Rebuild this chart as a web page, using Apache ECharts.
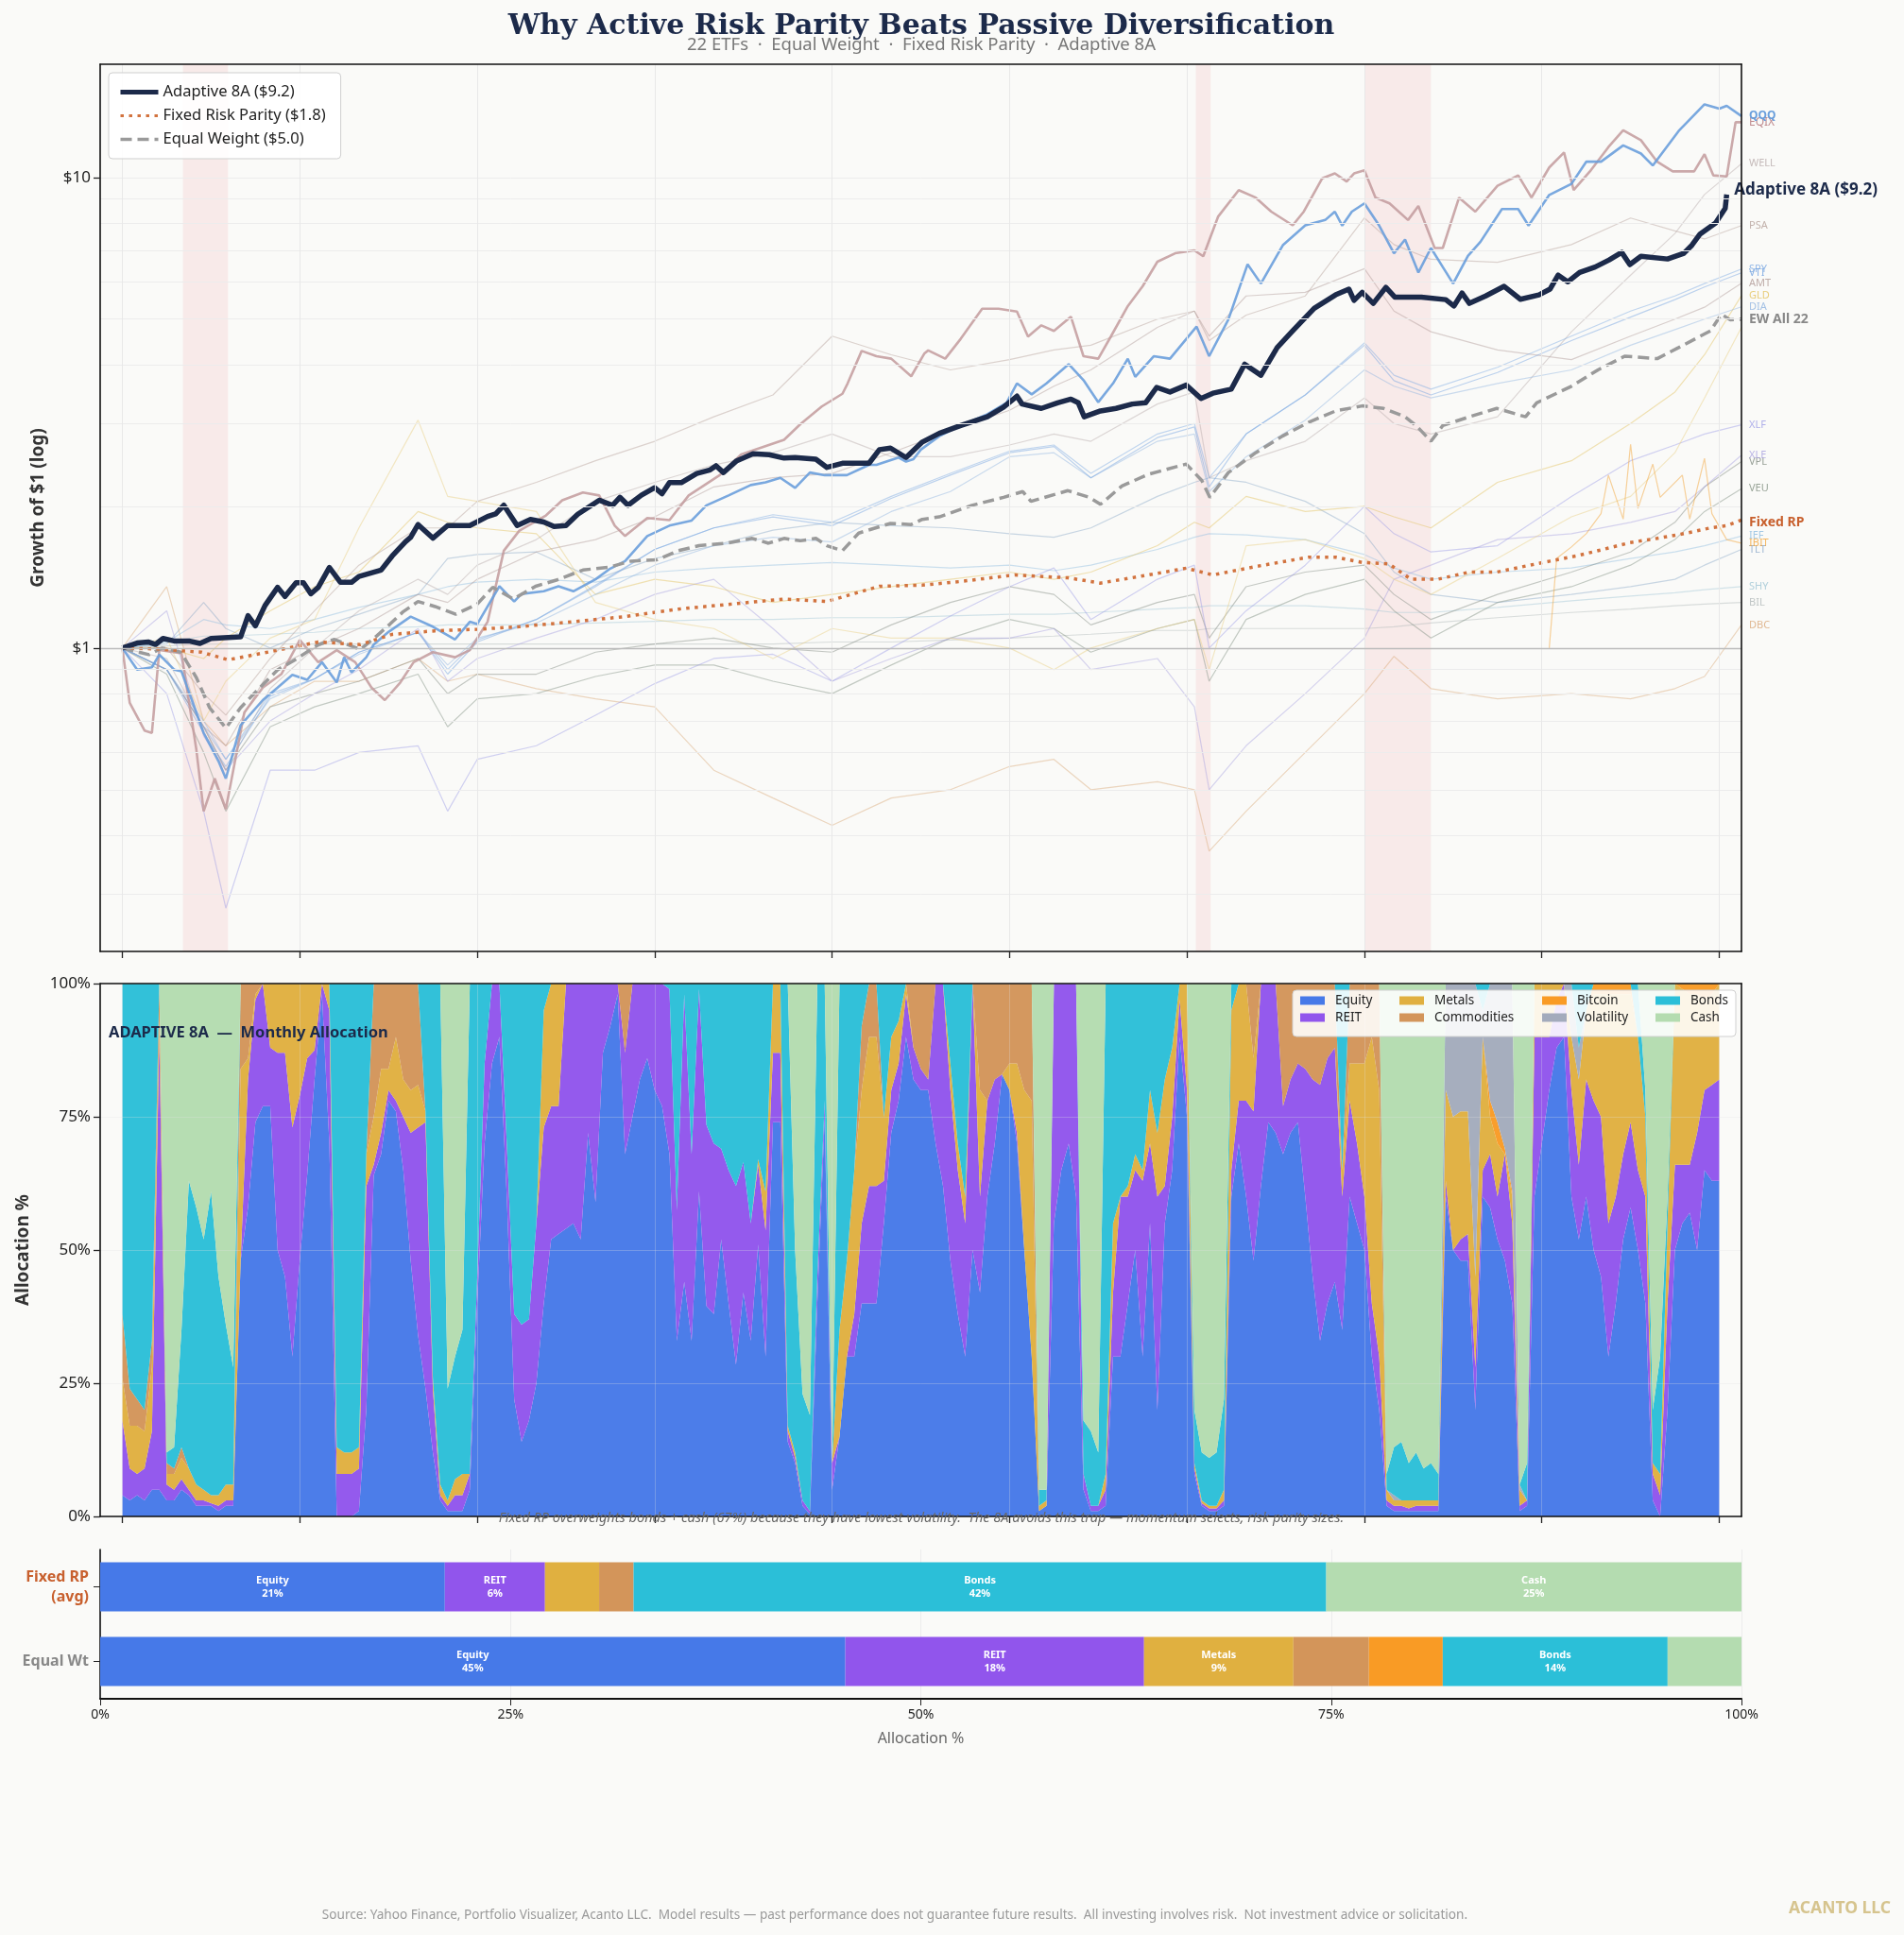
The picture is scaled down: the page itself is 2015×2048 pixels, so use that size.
<!DOCTYPE html>
<html><head><meta charset="utf-8">
<script src="https://cdn.jsdelivr.net/npm/echarts/dist/echarts.min.js"></script>
<style>html,body{margin:0;padding:0;background:#fafaf8}#c{width:2015px;height:2048px}</style>
</head><body><div id="c"></div>
<script>
// ---------- DATA ----------
const yearTicks = [0,24,48,72,96,120,144,168,192,216];
const stressPeriods = [[8.2,14.3],[145.2,147.2],[168,177]];
const minorLevels = [0.3,0.4,0.5,0.6,0.7,0.8,0.9,2,3,4,5,6,7,8,9,10];

const etfMonths = [0,6,11,14,20,26,32,40,44,48,56,64,72,80,88,96,104,112,120,126,131,140,145,147,152,160,168,172,177,186,196,204,210,214,219];
const SPY  = [1.00,0.90,0.68,0.58,0.80,0.86,0.98,1.08,0.90,1.04,1.15,1.35,1.62,1.80,1.92,1.85,2.10,2.35,2.62,2.70,2.35,2.85,3.00,2.30,2.85,3.45,4.45,3.80,3.55,3.95,4.60,5.20,5.60,5.95,6.39];
const VTI  = [1.00,0.90,0.66,0.56,0.79,0.86,0.98,1.08,0.88,1.03,1.15,1.36,1.62,1.80,1.90,1.82,2.08,2.33,2.60,2.68,2.30,2.80,2.95,2.20,2.85,3.45,4.40,3.70,3.45,3.85,4.50,5.05,5.50,5.85,6.27];
const DIA  = [1.00,0.90,0.70,0.58,0.78,0.86,0.97,1.08,0.92,1.05,1.13,1.30,1.50,1.65,1.72,1.68,1.95,2.15,2.55,2.60,2.30,2.75,2.85,2.15,2.55,3.05,3.90,3.60,3.40,3.65,3.90,4.40,4.75,5.00,5.31];
const WELL = [1.00,0.95,0.68,0.55,0.82,1.00,1.20,1.40,1.30,1.50,1.70,2.05,2.25,2.45,2.60,2.85,2.55,2.55,2.70,2.85,2.75,3.30,3.50,2.30,2.50,2.75,3.40,3.00,2.85,3.10,4.70,6.20,7.60,9.20,10.70];
const PSA  = [1.00,1.00,0.80,0.72,0.95,1.20,1.50,1.80,1.80,2.05,2.25,2.50,2.75,3.10,3.45,4.60,4.20,3.90,4.10,4.30,4.40,5.00,5.20,4.50,5.10,5.60,8.20,7.20,6.70,6.60,7.20,8.20,7.70,7.40,7.90];
const AMT  = [1.00,0.90,0.68,0.62,0.90,1.00,1.10,1.30,1.25,1.40,1.60,1.70,1.90,2.20,2.30,2.35,2.60,2.90,3.20,3.60,3.90,4.80,5.20,4.60,5.60,5.70,6.40,5.20,4.70,4.30,4.10,4.60,5.00,5.30,5.96];
const GLD  = [1.00,1.00,0.95,1.05,1.20,1.35,1.45,1.95,1.85,1.80,1.75,1.30,1.40,1.35,1.25,1.30,1.35,1.40,1.45,1.40,1.45,1.65,1.85,1.80,2.10,1.95,2.00,1.90,1.80,2.25,2.50,3.00,3.50,4.20,5.61];
const SLV  = [1.00,1.05,0.70,0.85,1.05,1.15,1.80,3.05,2.10,2.05,1.95,1.25,1.15,1.10,0.95,1.10,1.05,1.05,1.00,0.90,1.00,1.10,1.15,0.90,1.65,1.70,1.55,1.40,1.30,1.55,1.90,2.10,2.60,3.40,4.80];
const XLF  = [1.00,0.80,0.45,0.28,0.55,0.55,0.60,0.62,0.45,0.58,0.62,0.72,0.84,0.95,0.97,0.85,1.00,1.17,1.35,1.48,1.15,1.40,1.50,1.00,1.20,1.50,2.00,1.75,1.60,1.65,2.10,2.50,2.70,2.85,2.98];
const XLE  = [1.00,1.20,0.65,0.55,0.70,0.80,0.90,1.10,0.85,0.95,1.05,1.15,1.30,1.40,1.10,0.85,0.95,1.05,1.05,1.10,0.90,0.95,0.75,0.50,0.62,0.80,1.05,1.40,1.50,1.70,1.75,1.85,1.95,2.20,2.57];
const VPL  = [1.00,0.90,0.68,0.55,0.75,0.80,0.85,0.95,0.80,0.88,0.88,0.98,1.02,1.05,1.00,0.98,1.12,1.25,1.35,1.30,1.12,1.25,1.30,1.05,1.35,1.45,1.50,1.30,1.15,1.30,1.45,1.60,1.85,2.20,2.49];
const VEU  = [1.00,0.88,0.60,0.45,0.68,0.75,0.80,0.88,0.68,0.78,0.80,0.87,0.92,0.92,0.85,0.80,0.92,1.05,1.15,1.10,0.98,1.10,1.15,0.85,1.15,1.30,1.40,1.20,1.05,1.25,1.35,1.50,1.70,1.95,2.18];
const IEF  = [1.00,1.03,1.15,1.12,1.10,1.15,1.22,1.30,1.35,1.38,1.40,1.38,1.45,1.48,1.50,1.52,1.50,1.48,1.50,1.46,1.50,1.62,1.72,1.75,1.74,1.70,1.58,1.48,1.40,1.45,1.48,1.55,1.60,1.65,1.73];
const TLT  = [1.00,1.02,1.25,1.10,1.00,1.10,1.18,1.30,1.55,1.58,1.60,1.40,1.55,1.65,1.78,1.85,1.82,1.80,1.75,1.72,1.80,2.10,2.25,2.30,2.25,2.05,1.75,1.45,1.30,1.25,1.30,1.35,1.40,1.50,1.62];
const SHY  = [1.00,1.03,1.06,1.06,1.07,1.08,1.10,1.11,1.12,1.12,1.12,1.13,1.14,1.15,1.15,1.16,1.16,1.17,1.18,1.18,1.19,1.21,1.22,1.23,1.23,1.23,1.21,1.19,1.19,1.22,1.26,1.29,1.31,1.33,1.35];
const BIL  = [1.00,1.01,1.02,1.02,1.02,1.02,1.02,1.02,1.02,1.02,1.02,1.02,1.02,1.02,1.02,1.03,1.03,1.04,1.05,1.06,1.07,1.09,1.09,1.10,1.10,1.10,1.10,1.11,1.13,1.16,1.19,1.21,1.23,1.24,1.25];
const DBC  = [1.00,1.35,0.70,0.62,0.75,0.85,0.85,0.95,0.85,0.88,0.82,0.78,0.75,0.55,0.48,0.42,0.48,0.50,0.56,0.58,0.50,0.52,0.50,0.37,0.45,0.60,0.80,0.96,0.82,0.78,0.80,0.78,0.82,0.87,1.12];
const IBIT = [[193,1.0],[194,1.55],[196,1.64],[198,1.75],[200,1.93],[201,2.33],[203,1.88],[204,2.71],[205,1.98],[207,2.46],[208,2.09],[211,2.33],[212,1.88],[214,2.53],[215,1.93],[217,1.70],[219,1.67]];

const QQQ = [[0,1.0],[2,0.90],[4,0.91],[5,0.968],[7,0.90],[8,0.892],[11,0.66],[13,0.575],[14,0.528],[16,0.685],[19,0.775],[21,0.824],[23,0.877],[25,0.856],[27,0.933],[29,0.845],[30,0.956],[31,0.888],[33,0.956],[34,1.017],[36,1.082],[39,1.166],[42,1.11],[45,1.043],[47,1.137],[48,1.124],[51,1.353],[53,1.256],[54,1.303],[57,1.32],[59,1.353],[61,1.32],[64,1.40],[66,1.475],[68,1.53],[71,1.73],[74,1.82],[77,1.866],[79,2.01],[82,2.11],[85,2.22],[87,2.25],[89,2.30],[91,2.19],[93,2.36],[95,2.33],[98,2.33],[101,2.45],[102,2.45],[105,2.54],[106,2.49],[107,2.52],[108,2.64],[110.5,2.82],[113.4,2.97],[117,3.14],[119.6,3.32],[121,3.65],[123,3.46],[125,3.65],[128,4.01],[130,3.71],[132,3.33],[134,3.65],[136,4.12],[137,3.77],[139.5,4.17],[141.7,4.12],[145.3,4.82],[147,4.17],[149.6,4.99],[152.2,6.54],[154,5.95],[157,7.19],[160,7.91],[162.7,8.12],[164,8.46],[165,7.9],[166.3,8.46],[168,8.81],[170,7.9],[172,6.9],[173.5,7.38],[175.3,6.28],[177,7.08],[178.6,6.45],[180,5.95],[182,6.81],[183.7,7.3],[186.6,8.57],[188.8,8.57],[190.2,7.9],[193,9.18],[196,9.69],[198,10.8],[200,10.8],[203,11.7],[205.4,11.24],[207,10.6],[210.5,12.55],[214,14.3],[216,14.0],[217,14.2],[219,13.5]];
const EQIX = [[0,1.0],[1,0.765],[3,0.668],[4,0.66],[5,0.99],[8,0.975],[10,0.61],[11,0.45],[12.5,0.528],[14,0.455],[16.5,0.73],[19,0.824],[21.5,0.88],[24,1.04],[26.5,0.933],[29,0.99],[31.5,0.933],[33.7,0.824],[35.5,0.775],[37.6,0.845],[39.4,0.933],[42,0.98],[45,0.956],[47,0.99],[49.4,1.137],[51.6,1.61],[53.7,1.776],[57.3,1.913],[59.5,2.06],[62.3,2.14],[64.5,2.11],[66.6,1.82],[68,1.73],[71,1.89],[74,1.87],[76.6,2.11],[80.8,2.33],[83.7,2.58],[86.5,2.67],[89.5,2.77],[91.7,2.99],[94.6,3.26],[97.4,3.47],[98.1,3.65],[100,4.28],[102,4.17],[104,4.12],[106.7,3.78],[108.5,4.23],[109,4.29],[111.3,4.12],[113.4,4.54],[116.3,5.26],[118.5,5.26],[121,5.19],[122.5,4.59],[124.3,4.85],[126,4.72],[128.3,5.06],[130,4.17],[132,4.12],[133.7,4.59],[136,5.33],[138,5.87],[140,6.62],[142.4,6.9],[145,7.0],[146.2,6.8],[148.2,8.25],[151,9.4],[153.3,9.06],[155.4,8.46],[158.3,7.91],[159.8,8.46],[162.3,9.96],[164,10.2],[165.6,9.8],[166.6,10.2],[168,10.35],[169.5,9.06],[171.4,8.81],[173.9,8.12],[175.3,8.7],[177.5,7.08],[178.6,7.08],[180.8,9.06],[183,8.46],[186,9.6],[188.8,10.1],[190.6,9.06],[193,10.5],[195,11.3],[196.3,9.4],[198.5,10.3],[201,11.6],[203,12.6],[205.4,12.0],[207.6,10.8],[209.7,10.3],[212.6,10.3],[214,11.2],[215.2,10.1],[217,10.05],[218.2,13.1],[219,13.1]];

const adaptive8A = [[0,1.0],[2,1.025],[3.5,1.03],[4.5,1.018],[5.5,1.048],[7,1.035],[9,1.035],[10.5,1.023],[12,1.048],[16,1.056],[17,1.172],[18,1.115],[19.3,1.231],[21,1.346],[22,1.287],[23.5,1.376],[24.5,1.376],[25.5,1.304],[26.5,1.346],[28,1.483],[29.5,1.379],[31,1.379],[32,1.42],[35,1.464],[36.5,1.569],[38.3,1.682],[39,1.719],[40,1.830],[42,1.712],[44,1.821],[47,1.821],[49.4,1.904],[50.5,1.928],[51.6,2.011],[53.4,1.821],[55.2,1.876],[57,1.853],[58.4,1.812],[60,1.82],[61.6,1.924],[64.5,2.061],[66.3,2.011],[67.3,2.091],[68.4,2.011],[70.2,2.112],[72,2.191],[73,2.128],[74,2.246],[75.6,2.246],[77.7,2.350],[79.5,2.391],[80.3,2.44],[81.3,2.36],[83.1,2.50],[85.3,2.588],[87.5,2.575],[89.5,2.533],[91,2.54],[93.8,2.52],[95.3,2.42],[97.4,2.47],[101,2.47],[102.4,2.64],[103.9,2.66],[106,2.54],[108.2,2.74],[110.5,2.86],[113.4,2.97],[117,3.10],[119.2,3.25],[121,3.43],[121.7,3.30],[124.3,3.23],[126.5,3.32],[128.3,3.38],[129.3,3.32],[130.1,3.10],[132.3,3.19],[134.4,3.23],[136.6,3.30],[138.4,3.32],[139.9,3.58],[141.7,3.50],[143.9,3.62],[145.9,3.39],[147.5,3.48],[150,3.55],[151.8,4.01],[154,3.80],[156.2,4.35],[158.3,4.72],[161.2,5.27],[164.1,5.63],[165.9,5.79],[166.6,5.48],[167.7,5.70],[169.2,5.40],[170.9,5.84],[172.1,5.57],[175.7,5.57],[179,5.50],[180.1,5.33],[181.2,5.68],[182.2,5.40],[184.4,5.60],[186.9,5.87],[189.1,5.51],[191.6,5.63],[193.1,5.79],[194.2,6.20],[195.5,6.0],[197.1,6.28],[199.2,6.45],[201.1,6.68],[202.8,6.93],[203.9,6.53],[205.4,6.80],[209,6.71],[211.2,6.90],[212.3,7.18],[213.4,7.58],[215.5,8.0],[216.8,8.6],[217,9.2]];
const fixedRiskParity = [[0,1.0],[5,0.995],[10.7,0.98],[14.3,0.944],[17.9,0.968],[21.5,0.993],[26.5,1.03],[32.2,1.017],[36.5,1.069],[42.3,1.088],[48,1.096],[53.7,1.11],[60.9,1.137],[68,1.166],[75.2,1.21],[82.4,1.24],[89.5,1.271],[95.3,1.256],[102.4,1.353],[108.2,1.36],[113.4,1.385],[120.7,1.43],[127.9,1.41],[132.3,1.374],[138.8,1.43],[143.9,1.478],[147.5,1.43],[153.3,1.49],[160.5,1.56],[164.1,1.56],[167.7,1.52],[171.3,1.51],[174.3,1.40],[177.9,1.40],[182.2,1.45],[185.9,1.45],[189.5,1.49],[193.1,1.53],[196.7,1.57],[200.3,1.62],[203.9,1.675],[207.6,1.71],[211.2,1.75],[214.8,1.80],[217,1.82],[219,1.87]];
const equalWeight = [[0,1.0],[3.6,0.968],[5.4,1.0],[7.9,0.98],[10,0.866],[11.8,0.747],[14,0.676],[16,0.747],[18.6,0.824],[21,0.899],[23.6,0.949],[26.5,1.017],[28.7,1.043],[32.2,0.993],[34.4,1.061],[36.2,1.124],[38,1.195],[40,1.256],[42.3,1.225],[45.1,1.18],[48,1.24],[50.1,1.346],[52.9,1.271],[55.9,1.353],[58.7,1.394],[62.3,1.465],[65.9,1.486],[68.8,1.53],[72.3,1.54],[75.2,1.61],[78,1.65],[81.7,1.67],[85.2,1.71],[87.4,1.67],[89.5,1.71],[91.7,1.69],[93.8,1.71],[95.3,1.65],[97.4,1.61],[99.6,1.755],[103.9,1.84],[106.7,1.83],[108.2,1.877],[110.5,1.90],[114.9,2.01],[119.2,2.09],[121.8,2.15],[122.9,2.05],[127.9,2.16],[130.8,2.09],[132.3,2.02],[135.2,2.21],[138.8,2.34],[143.9,2.46],[146,2.27],[147.1,2.09],[149.6,2.36],[153.3,2.60],[156.9,2.82],[160.5,3.02],[164.1,3.19],[167.7,3.27],[170.6,3.23],[173.5,3.10],[175,2.97],[177,2.75],[178.6,2.97],[182.2,3.10],[185.9,3.23],[189.8,3.10],[191.3,3.32],[196,3.60],[199.6,3.90],[203.2,4.17],[207.6,4.12],[210.5,4.35],[214.8,4.72],[216.3,5.12],[217.5,4.98],[219,5.0]];

// Monthly allocation of Adaptive 8A (% per asset class), months 0..216
const allocMonths = Array.from({length: 217}, (_, i) => i);
const allocEquity = [4,3,4,3,5,5,3,3,5,4, 2,2,2,1,2,2,48,58,74,77, 77,50,45,30,48,64,82,98,70,0, 0,0,1,20,64,68,78,76,65,48, 34,24,12,3,1,1,1,5,40,70, 85,90,60,22,14,18,25,40,52,53, 54,55,52,72,59,87,92,98,68,75, 82,86,80,77,68,33,44,33,61,39.5, 38,52,40,28.5,42,33,51,30,74,74, 14,10,2,0.5,40,75,5,15,30,30, 40,40,40,55,72,78,90,82,80,80, 70,62,48,38,30,50,42,60,70,83, 80,70,50,30,1,2,55,65,70,60, 5,1,1,2,30,30,40,50,30,55, 20,55,65,90,75,8,2,1,1,2, 60,70,60,48,62,74,72,68,72,74, 60,45,33,40,44,35,60,55,50,30, 20,2,1,1,1,1,1,1,1,60, 50,48,48,20,60,58,52,48,40,1, 2,60,70,80,88,90,60,52,60,50, 45,30,40,52,58,50,40,3,0,20, 50,55,57,50,65,63,63];
const allocREIT = [14,6,4,6,11,85,3,2,2,1, 1,1,0.5,1,1,1,0,24,23,23, 11,37,42,43,31,22,5.5,2,25,8, 8,8,8,42,2,4,2,2,10,24, 39,50,12,1,1,3,3,3,5,15, 15,10,10,16,22,19,30,33,25,24, 46,45,48,28,41,13,8,2,19,25, 18,14,20,23,31,24.5,54,35,38,34, 32,17,25,33.5,24.5,22,15,23.7,13,13, 2,1,1,0.5,5,3,5,0,0,8, 15,22,22,8,8,7,8,6,4,2, 30,38,32,27,25,50,18,18,12,0, 0,2,0,0,0,0,45,35,30,40, 3,1,1,3,12,30,20,15,33,15, 40,7,10,7,5,1,0.5,0.5,0.5,1, 5,8,18,28,38,26,28,9,10,11, 24,37,48,46,44,25,18,15,10,10, 10,1,1,1,0.5,1,1,1,1,3, 0,4,5,8,5,10,8,20,15,1, 1,30,20,10,9,10,20,14,22,28, 30,25,20,16,16,15,20,5,4,20, 16,11,9,22,15,18,19];
const allocMetals = [8,8,9,7,12,3,2,3,4,4, 3,2,1.5,2,3,3,36,4,1,0, 12,13,13,27,21,14,12.5,0,5,5, 4,4,4,6,9,12,4,12,7,8, 8,2,2,2,1,3,4,0,0,0, 0,0,0,0,0,0,0,22,23,23, 0,0,0,0,0,0,0,0,0,0, 0,0,0,0,0,0,0,0,0,0, 0,0,0,0,0,0,1,7.3,13,13, 1,1,0,0,0,0,0,20,18,27, 25,28,28,12,10,8,2,0,0,0, 0,0,5,5,5,0,20,0,0,0, 5,13,30,48,1,1,0,0,0,0, 0,0,0,3,13,0,2,3,2,10, 12,20,13,3,20,1,0.5,0.5,0.5,2, 30,22,22,10,0,0,0,0,0,0, 0,0,0,0,0,5,7,15,25,50, 50,2,1,1,1.5,1,1,1,1,17, 25,24,23,17,25,7,10,0,5,3, 0,10,10,10,3,0,10,16,13,20, 23,43,38,30,24,25,15,2,4,15, 34,33,32,26,17,17,18];
const allocCommodities = [12,7,5,4,5,7,2,1,2,0, 0,0,0,0,0,0,16,14,2,0, 0,0,0,0,0,0,0,0,0,0, 0,0,0,0,25,16,16,10,18,20, 19,0,0,0,0,0,0,0,0,0, 0,0,0,0,0,0,0,0,0,0, 0,0,0,0,0,0,0,0,13,0, 0,0,0,0,0,0,0,0,0,0, 0,0,0,0,0,0,0,0,0,0, 0,0,0,0,0,0,0,0,0,0, 12,10,10,0,0,0,0,12,16,18, 0,0,0,0,0,0,20,22,18,17, 15,15,20,22,0,0,0,0,0,0, 0,0,0,0,0,0,0,0,0,0, 0,0,0,0,0,0,0,0,0,0, 0,0,0,14,0,0,0,23,18,15, 16,18,19,14,12,0,15,15,15,10, 20,0,0,0,0,0,0,0,0,0, 0,0,0,0,0,0,0,0,0,0, 0,0,0,0,0,0,0,0,0,0, 0,0,0,0,0,0,0,0,0,0, 0,0,0,0,0,0,0];
const allocBitcoin = [0,0,0,0,0,0,0,0,0,0, 0,0,0,0,0,0,0,0,0,0, 0,0,0,0,0,0,0,0,0,0, 0,0,0,0,0,0,0,0,0,0, 0,0,0,0,0,0,0,0,0,0, 0,0,0,0,0,0,0,0,0,0, 0,0,0,0,0,0,0,0,0,0, 0,0,0,0,0,0,0,0,0,0, 0,0,0,0,0,0,0,0,0,0, 0,0,0,0,0,0,0,0,0,0, 0,0,0,0,0,0,0,0,0,0, 0,0,0,0,0,0,0,0,0,0, 0,0,0,0,0,0,0,0,0,0, 0,0,0,0,0,0,0,0,0,0, 0,0,0,0,0,0,0,0,0,0, 0,0,0,0,0,0,0,0,0,0, 0,0,0,0,0,0,0,0,0,0, 0,0,0,0,0,0,0,0,0,0, 0,0,0,0,0,3,4,1,1,0, 0,0,0,0,0,0,0,0,0,2, 2,2,2,2,2,0,0,0,0,0, 0,1,2,2,3,2,0];
const allocVolatility = [0,0,0,0,0,0,0,0,0,0, 0,0,0,0,0,0,0,0,0,0, 0,0,0,0,0,0,0,0,0,0, 0,0,0,0,0,0,0,0,0,0, 0,0,0,0,0,0,0,0,0,0, 0,0,0,0,0,0,0,0,0,0, 0,0,0,0,0,0,0,0,0,0, 0,0,0,0,0,0,0,0,0,0, 0,0,0,0,0,0,0,0,0,0, 0,0,0,0,0,0,0,0,0,0, 0,0,0,0,0,0,0,0,0,0, 0,0,0,0,0,0,0,0,0,0, 0,0,0,0,0,0,0,0,0,0, 0,0,0,0,0,0,0,0,0,0, 0,0,0,0,0,0,0,0,0,0, 0,0,0,0,0,0,0,0,0,0, 0,0,0,0,0,0,0,0,0,0, 0,0,1,0,0,0,0,0,0,20, 25,24,24,55,5,22,26,31,39,1, 0,0,0,0,0,0,10,6,0,0, 0,0,0,0,0,0,0,0,0,0, 0,0,0,0,0,0,0];
const allocBonds = [62,76,78,80,67,0,2,4,22,54, 52,47,57,41,30,22,0,0,0,0, 0,0,0,0,0,0,0,0,0,87, 88,88,87,32,0,0,0,0,0,0, 0,24,74,94,21,23,27,92,55,15, 0,0,30,62,64,63,45,5,0,0, 0,0,0,0,0,0,0,0,0,0, 0,0,0,0,1,42.5,2,32,1,26.5, 30,31,35,38,33.5,45,33,39,0,0, 83,38,20,18,55,22,0,65,52,35, 8,0,0,25,10,7,0,0,0,0, 0,0,15,30,40,0,0,0,0,0, 0,0,0,0,3,2,0,0,0,0, 10,14,10,92,45,40,38,32,35,20, 28,18,12,0,0,10,9,9,10,17, 5,0,0,0,0,0,0,0,0,0, 0,0,0,0,0,35,0,0,0,0, 0,3,9,11,7,9,6,7,5,0, 0,0,0,0,5,0,0,0,0,0, 7,0,0,0,0,0,0,12,5,0, 0,0,0,0,0,10,5,10,22,5, 0,0,0,0,0,0,0];
const allocCash = [0,0,0,0,0,0,88,87,65,37, 42,48,39,55,64,72,0,0,0,0, 0,0,0,0,0,0,0,0,0,0, 0,0,0,0,0,0,0,0,0,0, 0,0,0,0,76,70,65,0,0,0, 0,0,0,0,0,0,0,0,0,0, 0,0,0,0,0,0,0,0,0,0, 0,0,0,0,0,0,0,0,0,0, 0,0,0,0,0,0,0,0,0,0, 0,50,77,81,0,0,90,0,0,0, 0,0,0,0,0,0,0,0,0,0, 0,0,0,0,0,0,0,0,0,0, 0,0,0,0,95,95,0,0,0,0, 82,84,88,0,0,0,0,0,0,0, 0,0,0,0,0,80,88,89,88,78, 0,0,0,0,0,0,0,0,0,0, 0,0,0,0,0,0,0,0,0,0, 0,92,87,86,90,88,91,90,92,0, 0,0,0,0,0,0,0,0,0,94, 90,0,0,0,0,0,0,0,0,0, 0,0,0,0,0,0,20,80,70,40, 0,0,0,0,0,0,0];

const allocClasses = ['Equity','REIT','Metals','Commodities','Bitcoin','Volatility','Bonds','Cash'];
const barRows = ['Fixed RP\n(avg)', 'Equal Wt'];
const fixedRPMix  = [21.0, 6.1, 3.3, 2.1, 0, 0, 42.2, 25.3];
const equalWtMix  = [45.4, 18.2, 9.1, 4.6, 4.5, 0, 13.7, 4.5];

// ---------- STYLE ----------
const classColors = ['#4679e8','#9155ec','#e0b040','#d3955a','#f99b25','#a3abbc','#2bbfd8','#b4dcb0'];
const NAVY = '#1c2a4a', FIXC = '#d2733f', EWC = '#9a9a9a';
const FONT = 'Noto Sans';
// month categories spanning the shared x range (-3 .. 219) for the allocation panel
const monthCats = Array.from({length: 223}, (_, i) => String(i - 3));
const isYearTick = (i, v) => yearTicks.indexOf(Number(v)) >= 0;

const etfList = [
  ['DBC', DBC, '#d9a878'], ['BIL', BIL, '#b0b8b8'], ['SHY', SHY, '#9fc5d5'], ['TLT', TLT, '#8aa8c8'],
  ['IEF', IEF, '#8fbde0'], ['VEU', VEU, '#7f8f80'], ['VPL', VPL, '#808a80'], ['XLE', XLE, '#a7a0e0'],
  ['XLF', XLF, '#9c9ce6'], ['SLV', SLV, '#e8cf80'], ['GLD', GLD, '#e3c25a'], ['AMT', AMT, '#b09a96'],
  ['PSA', PSA, '#b5a09a'], ['WELL', WELL, '#b8aaaa'], ['DIA', DIA, '#8fb3e0'], ['VTI', VTI, '#6fa0e0'],
  ['SPY', SPY, '#7aa8e2']
];

const series = [];
etfList.forEach((e, idx) => {
  const s = {
    name: e[0], type: 'line', xAxisIndex: 0, yAxisIndex: 0,
    data: etfMonths.map((m, i) => [m, e[1][i]]),
    symbol: 'none', silent: true,
    lineStyle: { color: e[2], width: 1.2, opacity: 0.45 },
    itemStyle: { color: e[2] },
    endLabel: e[0] === 'SLV' ? { show: false } : { show: true, formatter: '{a}', color: e[2], fontSize: 11, distance: 8, opacity: 0.8 },
    emphasis: { disabled: true }
  };
  if (idx === 0) {
    s.markLine = {
      silent: true, symbol: ['none', 'none'], label: { show: false }, animation: false,
      lineStyle: { color: '#ececec', width: 1, type: 'solid' },
      data: minorLevels.map(v => ({ yAxis: v }))
        .concat(yearTicks.map(v => ({ xAxis: v, lineStyle: { color: '#e8e8e8', width: 1, type: 'solid' } })))
        .concat([{ yAxis: 1, lineStyle: { color: '#bcbcbc', width: 1.4, type: 'solid' } }])
    };
    s.markArea = {
      silent: true, itemStyle: { color: 'rgba(240,130,130,0.13)' },
      data: stressPeriods.map(p => [{ xAxis: p[0] }, { xAxis: p[1] }])
    };
  }
  series.push(s);
});
series.push({
  name: 'IBIT', type: 'line', xAxisIndex: 0, yAxisIndex: 0, data: IBIT, symbol: 'none', silent: true,
  lineStyle: { color: '#f3a53a', width: 1.2, opacity: 0.5 }, itemStyle: { color: '#f3a53a' },
  endLabel: { show: true, formatter: '{a}', color: '#f3a53a', fontSize: 11, distance: 8, opacity: 0.8 }
});
series.push({
  name: 'EQIX', type: 'line', xAxisIndex: 0, yAxisIndex: 0, data: EQIX, symbol: 'none', silent: true,
  lineStyle: { color: '#c29a9c', width: 2.6, opacity: 0.85 }, itemStyle: { color: '#c29a9c' },
  endLabel: { show: true, formatter: '{a}', color: '#c08c90', fontSize: 12, distance: 8 }
});
series.push({
  name: 'QQQ', type: 'line', xAxisIndex: 0, yAxisIndex: 0, data: QQQ, symbol: 'none', silent: true,
  lineStyle: { color: '#6a9fdc', width: 2.6, opacity: 0.9 }, itemStyle: { color: '#6a9fdc' },
  endLabel: { show: true, formatter: '{a}', color: '#6a9fdc', fontSize: 12, distance: 8, fontWeight: 'bold' }
});
series.push({
  name: 'Equal Weight ($5.0)', type: 'line', xAxisIndex: 0, yAxisIndex: 0, data: equalWeight, symbol: 'none',
  lineStyle: { color: EWC, width: 3.5, type: [12, 6] }, itemStyle: { color: EWC },
  endLabel: { show: true, formatter: 'EW All 22', color: '#888', fontSize: 14, fontWeight: 'bold', distance: 8 }
});
series.push({
  name: 'Fixed Risk Parity ($1.8)', type: 'line', xAxisIndex: 0, yAxisIndex: 0, data: fixedRiskParity, symbol: 'none',
  lineStyle: { color: FIXC, width: 3.5, type: [3.5, 5.5], cap: 'butt' }, itemStyle: { color: FIXC },
  endLabel: { show: true, formatter: 'Fixed RP', color: '#c8602e', fontSize: 14, fontWeight: 'bold', distance: 8, offset: [0, 3] }
});
series.push({
  name: 'Adaptive 8A ($9.2)', type: 'line', xAxisIndex: 0, yAxisIndex: 0, data: adaptive8A, symbol: 'none',
  lineStyle: { color: NAVY, width: 5.5, join: 'round' }, itemStyle: { color: NAVY },
  endLabel: { show: true, formatter: '{a}', color: NAVY, fontSize: 17, fontWeight: 'bold', distance: 8, offset: [0, -5] }
});

const allocArrays = [allocEquity, allocREIT, allocMetals, allocCommodities, allocBitcoin, allocVolatility, allocBonds, allocCash];
allocClasses.forEach((c, i) => {
  series.push({
    name: c, type: 'line', xAxisIndex: 2, yAxisIndex: 2, stack: 'alloc', stackStrategy: 'all',
    data: allocMonths.map((m, j) => [String(m), allocArrays[i][j]]),
    symbol: 'none', silent: true,
    lineStyle: { width: 0, color: classColors[i] },
    itemStyle: { color: classColors[i] },
    areaStyle: { color: classColors[i], opacity: 0.97 }
  });
});
allocClasses.forEach((c, i) => {
  series.push({
    name: c, type: 'bar', xAxisIndex: 4, yAxisIndex: 4, stack: 'mix', stackStrategy: 'all', barWidth: 52, silent: true,
    data: [fixedRPMix[i], equalWtMix[i]],
    itemStyle: { color: classColors[i] },
    label: {
      show: true, position: 'inside', color: '#fff', fontSize: 11, fontWeight: 'bold', lineHeight: 14,
      formatter: p => (p.value >= 5 ? p.seriesName + '\n' + Math.round(p.value) + '%' : '')
    }
  });
});

const frameAxis = (gridIndex, pos) => ({
  gridIndex, type: 'value', position: pos, min: 0, max: 1, z: 10,
  axisLine: { show: true, onZero: false, lineStyle: { color: '#111', width: 1.6 } },
  axisTick: { show: false }, axisLabel: { show: false }, splitLine: { show: false }
});

const legendCols = [[1376, ['Equity', 'REIT']], [1481, ['Metals', 'Commodities']], [1632, ['Bitcoin', 'Volatility']], [1752, ['Bonds', 'Cash']]];
const legends = [{
  data: [
    { name: 'Adaptive 8A ($9.2)', lineStyle: { width: 5 } },
    { name: 'Fixed Risk Parity ($1.8)', lineStyle: { width: 3 } },
    { name: 'Equal Weight ($5.0)', lineStyle: { width: 3.5 } }
  ],
  orient: 'vertical', left: 115, top: 77, z: 20,
  backgroundColor: 'rgba(255,255,255,0.88)', borderColor: '#cfcfcf', borderWidth: 1, borderRadius: 4,
  padding: [12, 16, 12, 10], itemGap: 8, itemWidth: 40, itemHeight: 16,
  itemStyle: { opacity: 0 },
  textStyle: { fontSize: 16.5, color: '#222', fontFamily: FONT }
}];
legendCols.forEach(col => {
  legends.push({
    data: col[1].map(n => ({ name: n, icon: 'rect', itemStyle: { color: classColors[allocClasses.indexOf(n)] } })),
    orient: 'vertical', left: col[0], top: 1052, z: 30, itemGap: 4, itemWidth: 26, itemHeight: 9,
    selectedMode: false, padding: 0,
    textStyle: { fontSize: 13.5, color: '#222', fontFamily: FONT, padding: [0, 0, 0, 6] }
  });
});

const option = {
  animation: false,
  backgroundColor: '#fafaf8',
  textStyle: { fontFamily: FONT },
  legend: legends,
  grid: [
    { left: 106, right: 172, top: 68, height: 939, containLabel: false },
    { left: 106, right: 172, top: 1041, height: 564, containLabel: false },
    { left: 106, right: 172, top: 1640, height: 158, containLabel: false }
  ],
  xAxis: [
    {
      gridIndex: 0, type: 'value', min: -3, max: 219, z: 10,
      axisLine: { show: true, onZero: false, lineStyle: { color: '#111', width: 1.6 } },
      axisTick: { show: true, customValues: yearTicks, length: 7, lineStyle: { color: '#222', width: 1.3 } },
      axisLabel: { show: false, customValues: yearTicks },
      splitLine: { show: false }
    },
    frameAxis(0, 'top'),
    {
      gridIndex: 1, type: 'category', data: monthCats, boundaryGap: false, z: 10,
      axisLine: { show: true, onZero: false, lineStyle: { color: '#111', width: 1.6 } },
      axisTick: { show: true, length: 7, interval: isYearTick, lineStyle: { color: '#222', width: 1.3 } },
      axisLabel: { show: false },
      splitLine: { show: true, interval: isYearTick, lineStyle: { color: 'rgba(225,225,225,0.28)', width: 1 } }
    },
    frameAxis(1, 'top'),
    {
      gridIndex: 2, type: 'value', min: 0, max: 100, interval: 25,
      axisLine: { show: true, lineStyle: { color: '#111', width: 2 } },
      axisTick: { show: true, length: 7, lineStyle: { color: '#222' } },
      axisLabel: { formatter: '{value}%', fontSize: 14, color: '#222', margin: 10 },
      splitLine: { show: true, lineStyle: { color: '#ececec' } },
      name: 'Allocation %', nameLocation: 'middle', nameGap: 34,
      nameTextStyle: { fontSize: 16, color: '#666' }
    }
  ],
  yAxis: [
    {
      gridIndex: 0, type: 'log', logBase: 10, min: 0.2266, max: 17.4, z: 10,
      axisLine: { show: true, onZero: false, lineStyle: { color: '#111', width: 1.6 } },
      axisTick: { show: true, customValues: [1, 10], length: 7, lineStyle: { color: '#222', width: 1.3 } },
      axisLabel: { customValues: [1, 10], formatter: v => '$' + Math.round(v), fontSize: 17, color: '#222', margin: 10 },
      splitLine: { show: false },
      name: 'Growth of $1 (log)', nameLocation: 'middle', nameGap: 56,
      nameTextStyle: { fontSize: 19, fontWeight: 'bold', color: '#333' }
    },
    frameAxis(0, 'right'),
    {
      gridIndex: 1, type: 'value', min: 0, max: 100, interval: 25, z: 10,
      axisLine: { show: true, onZero: false, lineStyle: { color: '#111', width: 1.6 } },
      axisTick: { show: true, length: 7, lineStyle: { color: '#222', width: 1.3 } },
      axisLabel: { formatter: '{value}%', fontSize: 17, color: '#222', margin: 10 },
      splitLine: { show: true, lineStyle: { color: 'rgba(225,225,225,0.28)', width: 1 } },
      name: 'Allocation %', nameLocation: 'middle', nameGap: 72,
      nameTextStyle: { fontSize: 19, fontWeight: 'bold', color: '#333' }
    },
    frameAxis(1, 'right'),
    {
      gridIndex: 2, type: 'category', data: barRows, inverse: true,
      axisLine: { show: true, lineStyle: { color: '#111', width: 1.6 } },
      axisTick: { show: true, alignWithLabel: true, length: 7, lineStyle: { color: '#222' } },
      axisLabel: {
        fontSize: 16, fontWeight: 'bold', lineHeight: 21, margin: 12, align: 'right',
        color: (v, i) => (i === 0 ? '#c8602e' : '#888')
      }
    }
  ],
  graphic: [
    { type: 'text', x: 975, y: 28, z: 100, style: { text: 'Why Active Risk Parity Beats Passive Diversification', fontFamily: 'DejaVu Serif', fontWeight: 'bold', fontSize: 30, fill: NAVY, align: 'center', verticalAlign: 'middle' } },
    { type: 'text', x: 975, y: 48, z: 100, style: { text: '22 ETFs  ·  Equal Weight  ·  Fixed Risk Parity  ·  Adaptive 8A', fontFamily: FONT, fontSize: 18.5, fill: '#777', align: 'center', verticalAlign: 'middle' } },
    { type: 'rect', z: 25, shape: { x: 1368, y: 1048, width: 469, height: 49, r: 4 }, style: { fill: 'rgba(255,255,255,0.88)', stroke: '#d0d0d0', lineWidth: 1 } },
    { type: 'text', x: 115, y: 1093, z: 100, style: { text: 'ADAPTIVE 8A  —  Monthly Allocation', fontFamily: FONT, fontWeight: 'bold', fontSize: 16.5, fill: NAVY, align: 'left', verticalAlign: 'middle' } },
    { type: 'text', x: 975, y: 1607, z: 100, style: { text: 'Fixed RP overweights bonds + cash (67%) because they have lowest volatility.  The 8A avoids this trap — momentum selects, risk parity sizes.', fontFamily: FONT, fontStyle: 'italic', fontSize: 14.5, fill: '#666', align: 'center', verticalAlign: 'middle' } },
    { type: 'text', x: 947, y: 2027, z: 100, style: { text: 'Source: Yahoo Finance, Portfolio Visualizer, Acanto LLC.  Model results — past performance does not guarantee future results.  All investing involves risk.  Not investment advice or solicitation.', fontFamily: FONT, fontSize: 13.6, fill: '#9a9a9a', align: 'center', verticalAlign: 'middle' } },
    { type: 'text', x: 2001, y: 2020, z: 100, style: { text: 'ACANTO LLC', fontFamily: FONT, fontWeight: 'bold', fontSize: 17.5, fill: '#d6c48e', align: 'right', verticalAlign: 'middle' } }
  ],
  series
};

const chart = echarts.init(document.getElementById('c'), null, { renderer: 'canvas', width: 2015, height: 2048 });
chart.setOption(option);
</script>
</body></html>
